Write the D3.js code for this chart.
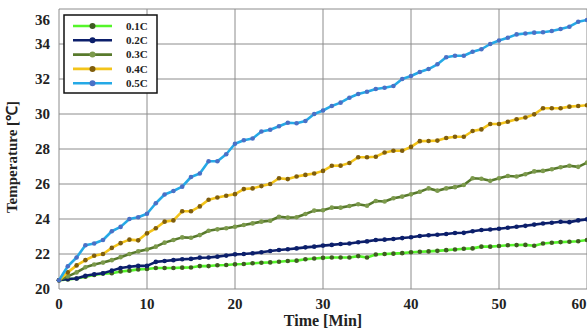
<!DOCTYPE html>
<html>
<head>
<meta charset="utf-8">
<script src="https://cdn.jsdelivr.net/npm/d3@7"></script>
<style>
  body { margin: 0; background: #fff; }
  text { font-family: "Liberation Serif", "Times New Roman", serif; font-weight: bold; fill: #222; }
</style>
</head>
<body>
<div id="chart"></div>
<script>
// time in minutes, one reading per minute
const time = d3.range(0, 61);

const c01 = [20.5, 20.55, 20.6, 20.7, 20.8, 20.88, 20.9, 21.0, 21.05, 21.12, 21.14,
  21.2, 21.2, 21.2, 21.22, 21.23, 21.31, 21.31, 21.36, 21.37, 21.41,
  21.43, 21.47, 21.5, 21.52, 21.56, 21.6, 21.62, 21.7, 21.74, 21.78,
  21.8, 21.8, 21.8, 21.88, 21.8, 21.97, 22.0, 22.02, 22.05, 22.1,
  22.13, 22.15, 22.18, 22.22, 22.26, 22.3, 22.32, 22.42, 22.42, 22.46,
  22.5, 22.51, 22.52, 22.47, 22.6, 22.64, 22.68, 22.7, 22.73, 22.8];

const c02 = [20.5, 20.57, 20.6, 20.76, 20.84, 20.9, 21.05, 21.2, 21.27, 21.32, 21.32,
  21.55, 21.6, 21.65, 21.7, 21.72, 21.79, 21.8, 21.85, 21.91, 21.98,
  22.0, 22.04, 22.1, 22.17, 22.23, 22.27, 22.32, 22.38, 22.42, 22.48,
  22.52, 22.57, 22.6, 22.67, 22.72, 22.8, 22.82, 22.86, 22.91, 22.96,
  23.03, 23.07, 23.1, 23.14, 23.2, 23.21, 23.3, 23.37, 23.4, 23.44,
  23.5, 23.56, 23.61, 23.68, 23.74, 23.79, 23.84, 23.82, 23.92, 23.98];

const c03 = [20.5, 20.72, 20.95, 21.24, 21.4, 21.51, 21.65, 21.82, 22.0, 22.15, 22.26,
  22.42, 22.65, 22.8, 22.95, 22.93, 23.08, 23.33, 23.41, 23.47, 23.56,
  23.66, 23.75, 23.85, 23.9, 24.13, 24.08, 24.1, 24.29, 24.48, 24.5,
  24.65, 24.65, 24.74, 24.84, 24.76, 25.03, 25.0, 25.19, 25.28, 25.41,
  25.56, 25.75, 25.62, 25.75, 25.82, 25.94, 26.33, 26.3, 26.18, 26.33,
  26.46, 26.43, 26.56, 26.72, 26.75, 26.84, 26.96, 27.04, 26.98, 27.22];

const c04 = [20.5, 20.95, 21.35, 21.65, 21.9, 22.0, 22.35, 22.62, 22.82, 22.78, 23.18,
  23.47, 23.85, 23.92, 24.44, 24.44, 24.72, 25.1, 25.23, 25.33, 25.42,
  25.71, 25.75, 25.88, 26.0, 26.33, 26.28, 26.43, 26.52, 26.6, 26.75,
  27.04, 27.05, 27.2, 27.53, 27.53, 27.56, 27.8, 27.9, 27.9, 28.12,
  28.45, 28.46, 28.48, 28.63, 28.7, 28.7, 29.03, 29.12, 29.43, 29.43,
  29.56, 29.7, 29.8, 29.98, 30.33, 30.33, 30.33, 30.42, 30.46, 30.5];

const c05 = [20.5, 21.3, 21.8, 22.5, 22.6, 22.8, 23.3, 23.55, 24.0, 24.1, 24.3,
  24.9, 25.4, 25.6, 25.85, 26.4, 26.6, 27.3, 27.3, 27.7, 28.3,
  28.5, 28.6, 29.0, 29.1, 29.3, 29.5, 29.47, 29.6, 30.0, 30.2,
  30.46, 30.65, 30.93, 31.14, 31.27, 31.43, 31.5, 31.6, 32.0, 32.17,
  32.4, 32.57, 32.84, 33.24, 33.33, 33.33, 33.56, 33.7, 34.0, 34.2,
  34.36, 34.55, 34.6, 34.65, 34.67, 34.74, 34.86, 34.99, 35.27, 35.37];

const seriesNames = ['0.1C', '0.2C', '0.3C', '0.4C', '0.5C'];
const seriesValues = [c01, c02, c03, c04, c05];
const lineColors = ['#55f52a', '#0c1f6b', '#587a2c', '#f3c41a', '#25a9e6'];
const dotColors = ['#3f5a22', '#0c1f6b', '#7c9a4c', '#7f5d0c', '#4a70c6'];

const xTicks = [0, 10, 20, 30, 40, 50, 60];
const yTicks = [20, 22, 24, 26, 28, 30, 32, 34, 36];

const width = 587, height = 333;
const margin = { top: 9, right: 0, bottom: 44, left: 59 };

const svg = d3.select('#chart').append('svg')
  .attr('width', width)
  .attr('height', height);

const x = d3.scaleLinear().domain([0, 60]).range([margin.left, width - margin.right]);
const y = d3.scaleLinear().domain([20, 36]).range([height - margin.bottom, margin.top]);

// grid
svg.append('g')
  .selectAll('line')
  .data(xTicks)
  .join('line')
  .attr('x1', d => x(d)).attr('x2', d => x(d))
  .attr('y1', y(36)).attr('y2', y(20))
  .attr('stroke', '#8c8c8c').attr('stroke-width', 1);

svg.append('g')
  .selectAll('line')
  .data(yTicks)
  .join('line')
  .attr('x1', x(0)).attr('x2', x(60))
  .attr('y1', d => y(d)).attr('y2', d => y(d))
  .attr('stroke', '#8c8c8c').attr('stroke-width', 1);

// tick labels
svg.append('g')
  .selectAll('text')
  .data(yTicks)
  .join('text')
  .attr('x', x(0) - 9)
  .attr('y', d => Math.max(y(d), 20))
  .attr('dy', '0.35em')
  .attr('text-anchor', 'end')
  .attr('font-size', 15)
  .text(d => d);

svg.append('g')
  .selectAll('text')
  .data(xTicks)
  .join('text')
  .attr('x', d => Math.min(x(d), width - 8))
  .attr('y', y(20) + 20)
  .attr('text-anchor', 'middle')
  .attr('font-size', 15)
  .text(d => d);

// axis titles
svg.append('text')
  .attr('x', (x(0) + x(60)) / 2)
  .attr('y', height - 7)
  .attr('text-anchor', 'middle')
  .attr('font-size', 16)
  .text('Time [Min]');

svg.append('text')
  .attr('transform', `translate(17,${(y(20) + y(36)) / 2 + 8}) rotate(-90)`)
  .attr('text-anchor', 'middle')
  .attr('font-size', 15)
  .text('Temperature [℃]');

// series
const line = d3.line()
  .x((d, i) => x(time[i]))
  .y(d => y(d));

seriesValues.forEach((vals, k) => {
  const g = svg.append('g');
  g.append('path')
    .datum(vals)
    .attr('fill', 'none')
    .attr('stroke', lineColors[k])
    .attr('stroke-width', 2.6)
    .attr('stroke-linejoin', 'round')
    .attr('d', line);
  g.selectAll('circle')
    .data(vals)
    .join('circle')
    .attr('cx', (d, i) => x(time[i]))
    .attr('cy', d => y(d))
    .attr('r', 2.3)
    .attr('fill', dotColors[k]);
});

// legend
const legend = svg.append('g').attr('transform', 'translate(64,15)');
legend.append('rect')
  .attr('width', 93).attr('height', 78)
  .attr('fill', '#fff').attr('stroke', '#111').attr('stroke-width', 1.5);

const rows = legend.selectAll('g.row')
  .data(seriesNames)
  .join('g')
  .attr('class', 'row')
  .attr('transform', (d, i) => `translate(0,${11 + i * 14.3})`);

rows.append('line')
  .attr('x1', 9).attr('x2', 48)
  .attr('stroke', (d, i) => lineColors[i])
  .attr('stroke-width', 2.6);
rows.append('circle')
  .attr('cx', 28.5).attr('r', 3)
  .attr('fill', (d, i) => dotColors[i]);
rows.append('text')
  .attr('x', 62)
  .attr('dy', '0.35em')
  .attr('font-size', 11)
  .text(d => d);
</script>
</body>
</html>
